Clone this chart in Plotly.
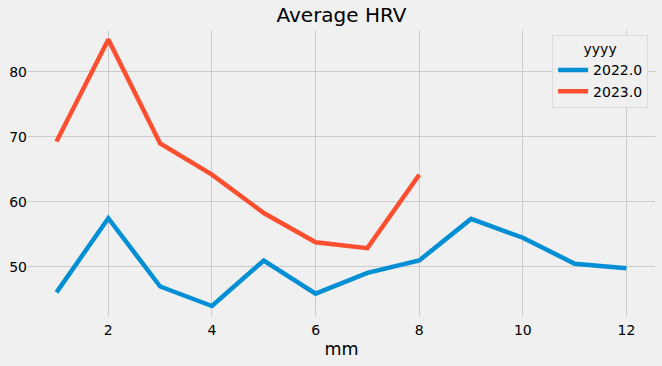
import plotly.graph_objects as go

months = [1, 2, 3, 4, 5, 6, 7, 8, 9, 10, 11, 12]
hrv_2022 = [46.1, 57.5, 47.0, 44.0, 51.0, 45.9, 49.1, 51.0, 57.4, 54.5, 50.5, 49.8]
months_2023 = [1, 2, 3, 4, 5, 6, 7, 8]
hrv_2023 = [69.3, 85.0, 69.0, 64.2, 58.3, 53.8, 52.9, 64.2]
series_names = ["2022.0", "2023.0"]
colors = ["#008fd5", "#fc4f30"]

fig = go.Figure()
fig.add_trace(go.Scatter(x=months, y=hrv_2022, mode="lines", name=series_names[0],
                         line=dict(color=colors[0], width=4.5)))
fig.add_trace(go.Scatter(x=months_2023, y=hrv_2023, mode="lines", name=series_names[1],
                         line=dict(color=colors[1], width=4.5)))

fig.update_layout(
    width=662, height=366,
    paper_bgcolor="#f0f0f0", plot_bgcolor="#f0f0f0",
    font=dict(family="DejaVu Sans", color="#000000", size=14),
    margin=dict(l=28, r=7, t=30, b=50, autoexpand=False),
    title=dict(text="Average HRV", xref="paper", x=0.5, xanchor="center",
               yref="container", y=1 - 15 / 366, yanchor="middle",
               font=dict(size=20, color="#000000")),
    showlegend=True,
    legend=dict(
        title=dict(text="yyyy", side="top center", font=dict(size=14)),
        x=0.989, xanchor="right", y=0.982, yanchor="top",
        bgcolor="#f0f0f0", bordercolor="#dcdcdc", borderwidth=1,
        font=dict(size=14), itemwidth=30,
    ),
)
fig.update_xaxes(range=[0.45, 12.55], tickvals=[2, 4, 6, 8, 10, 12], automargin=False,
                 showgrid=True, gridcolor="#cbcbcb", gridwidth=1, zeroline=False,
                 showline=False, ticks="", tickfont=dict(size=14), ticklabelstandoff=4,
                 title=dict(text="mm", font=dict(size=17.5), standoff=5))
fig.update_yaxes(range=[42.46, 86.46], tickvals=[50, 60, 70, 80], automargin=False,
                 showgrid=True, gridcolor="#cbcbcb", gridwidth=1, zeroline=False,
                 showline=False, ticks="", tickfont=dict(size=14), ticklabelstandoff=0)

fig.write_html("out.html", config={"displayModeBar": False},
               post_script="document.body.style.margin='0';document.body.style.background='#f0f0f0';")
